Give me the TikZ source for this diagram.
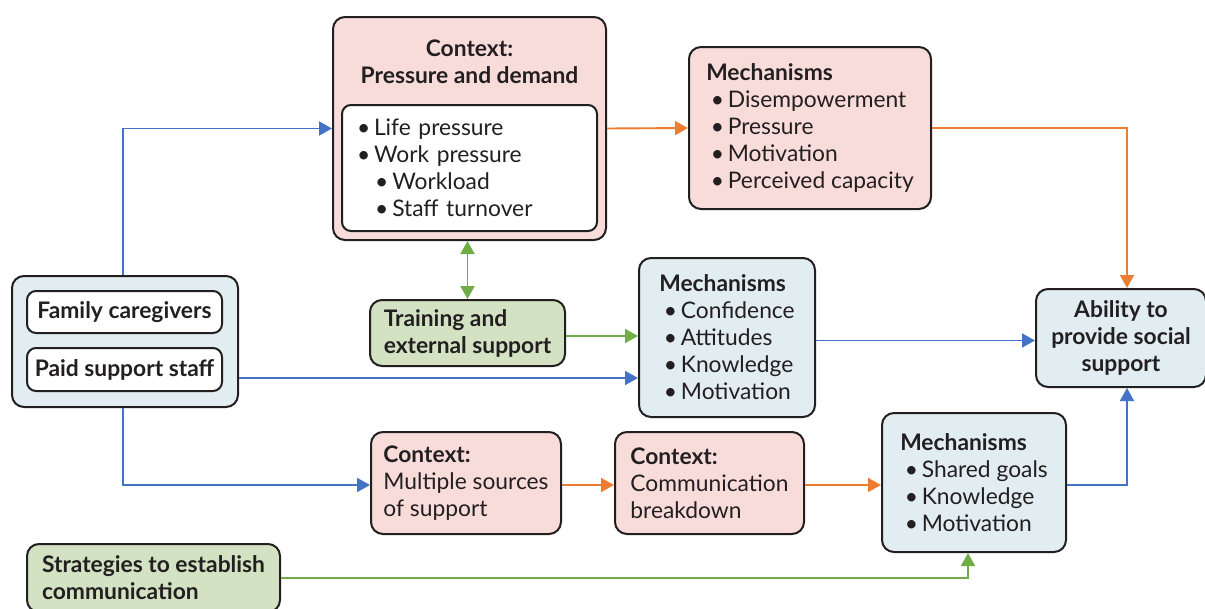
\documentclass[tikz,border=0pt]{standalone}
\usepackage{fontspec}
\setmainfont{Lato}
\usetikzlibrary{arrows.meta}
\definecolor{pinkf}{HTML}{F8DCDA}
\definecolor{bluef}{HTML}{E1EDF1}
\definecolor{greenf}{HTML}{D3E2C2}
\definecolor{bl}{HTML}{4472C4}
\definecolor{orl}{HTML}{ED7D31}
\definecolor{grl}{HTML}{70AD47}
\definecolor{bd}{HTML}{231F20}
\newcommand{\bul}{\textbullet\,}
\newcommand{\fs}{\fontsize{22.8}{27}\selectfont}
\begin{document}
\begin{tikzpicture}[x=1pt,y=-1pt,
  box/.style={draw=bd, line width=2pt, rounded corners=12pt, inner sep=0pt, align=left,
    font=\fs, text=bd},
  pinkbox/.style={box, fill=pinkf},
  bluebox/.style={box, fill=bluef},
  greenbox/.style={box, fill=greenf},
  whitebox/.style={box, fill=white, rounded corners=9pt},
  sz/.style n args={2}{minimum width=#1pt, minimum height=#2pt},
  conn/.style={line width=1.9pt, -{Triangle[length=13pt,width=14pt]}},
  barr/.style={conn, draw=bl},
  oarr/.style={conn, draw=orl},
  garr/.style={conn, draw=grl},
]
\useasboundingbox (0,0) rectangle (1205,608);

% left group
\node[bluebox, sz={226}{131}] (lft) at (125,341.5) {};
\node[whitebox, sz={195}{42}, font=\fs\bfseries] (fam) at (124.5,312) {Family caregivers};
\node[whitebox, sz={195}{43}, font=\fs\bfseries] (paid) at (124.5,369.5) {Paid support staff};

% context pressure
\node[pinkbox, sz={273}{223}] (ctx) at (469.5,128.5) {};
\node[align=center, inner sep=0pt, font=\fs\bfseries, text=bd] (ctxt) at (469.5,61.5) {Context:\\Pressure and demand};
\node[whitebox, text width=225pt, inner xsep=15pt, minimum height=126pt] (ctxl) at (469.5,168) {\bul Life pressure\\\bul Work pressure\\\hspace*{0.8em}\bul Workload\\\hspace*{0.8em}\bul Staff turnover};

% mechanisms top
\node[pinkbox, sz={242}{162}] (mtop) at (810,128) {\textbf{Mechanisms}\\\hspace*{0.2em}\bul Disempowerment\\\hspace*{0.2em}\bul Pressure\\\hspace*{0.2em}\bul Motivation\\\hspace*{0.2em}\bul Perceived capacity};

% training
\node[greenbox, sz={195}{66}, font=\fs\bfseries] (trn) at (467.5,333) {Training and\\external support};

% mechanisms middle
\node[bluebox, sz={176}{159}] (mmid) at (727,337.5) {\textbf{Mechanisms}\\\hspace*{0.2em}\bul Confidence\\\hspace*{0.2em}\bul Attitudes\\\hspace*{0.2em}\bul Knowledge\\\hspace*{0.2em}\bul Motivation};

% ability
\node[bluebox, sz={170}{98}, align=center, font=\fs\bfseries] (abil) at (1121,338) {Ability to\\provide social\\support};

% context multiple
\node[pinkbox, sz={190}{102}] (mult) at (466,483) {\textbf{Context:}\\Multiple sources\\of support};
\node[pinkbox, sz={189}{102}] (comm) at (709.5,483) {\textbf{Context:}\\Communication\\breakdown};

% mechanisms bottom
\node[bluebox, sz={184}{139}] (mbot) at (974,482.5) {\textbf{Mechanisms}\\\hspace*{0.2em}\bul Shared goals\\\hspace*{0.2em}\bul Knowledge\\\hspace*{0.2em}\bul Motivation};

% strategies
\node[greenbox, sz={253}{68}, font=\fs\bfseries] (strat) at (153.5,578) {Strategies to establish\\communication};

\coordinate (jx) at (1127,0);
% connectors
\draw[barr] ([xshift=-2pt]lft.north) |- (ctx.west);
\draw[oarr] (ctx.east) -- (mtop.west);
\draw[oarr] (mtop.east) -| (abil.north -| jx);
\draw[line width=1.9pt, draw=grl, {Triangle[length=13pt,width=14pt]}-{Triangle[length=13pt,width=14pt]}] ([xshift=-2pt]ctx.south) -- (trn.north);
\draw[garr] ([yshift=-3pt]trn.east) -- ([yshift=-3pt]trn.east -| mmid.west);
\draw[barr] ([yshift=-36.5pt]lft.east) -- ([yshift=-36.5pt]lft.east -| mmid.west);
\draw[barr] ([yshift=-3pt]mmid.east) -- ([yshift=-3pt]mmid.east -| abil.west);
\draw[barr] ([xshift=-2pt]lft.south) |- ([yshift=-2pt]mult.west);
\draw[oarr] ([yshift=-2pt]mult.east) -- ([yshift=-2pt]comm.west);
\draw[oarr] ([yshift=-2pt]comm.east) -- ([yshift=-2.5pt]mbot.west);
\draw[barr] ([yshift=-2.5pt]mbot.east) -| (abil.south -| jx);
\draw[garr] (strat.east) -| ([xshift=-6pt]mbot.south);
\end{tikzpicture}
\end{document}
